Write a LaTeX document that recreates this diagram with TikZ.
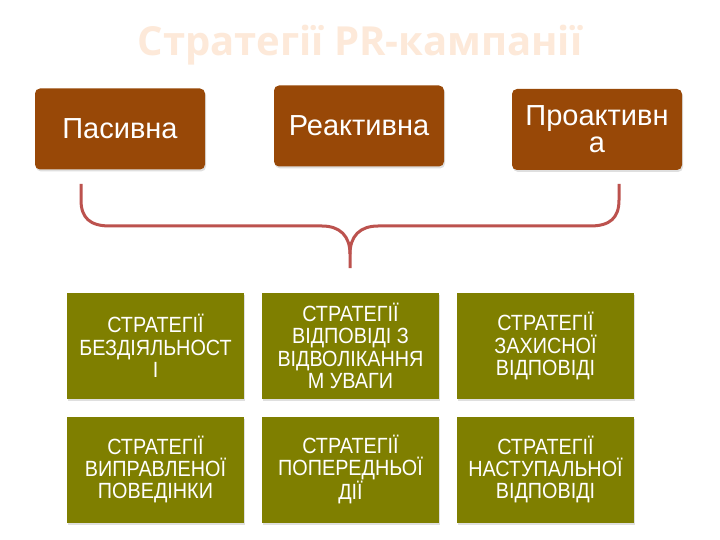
\documentclass[tikz,border=0pt]{standalone}
\usepackage{fontspec}
\setmainfont{Liberation Sans}
\newfontfamily\titlefont{Open Sans}
\newfontfamily\boxfont{Liberation Sans}[FakeStretch=0.9]
\usetikzlibrary{shadows}
\definecolor{topbox}{RGB}{152,72,7}
\definecolor{olivebox}{RGB}{127,127,0}
\definecolor{bracecol}{RGB}{188,82,78}
\definecolor{titlecol}{RGB}{253,233,217}
\tikzset{
  topnode/.style={fill=topbox, rounded corners=5pt, minimum width=170pt, minimum height=81pt,
    text=white, align=center, font=\fontsize{29}{27}\selectfont, inner sep=0pt,
    drop shadow={opacity=0.25, shadow xshift=1pt, shadow yshift=-2pt}},
  botnode/.style={fill=olivebox, minimum width=177pt, minimum height=106pt,
    text=white, align=center, font=\boxfont\fontsize{22}{22.3}\selectfont, inner sep=0pt,
    drop shadow={opacity=0.25, shadow xshift=1pt, shadow yshift=-2pt}},
  bracestyle/.style={draw=bracecol, line width=3pt, line join=round}
}
\begin{document}
\begin{tikzpicture}[x=1pt,y=-1pt]
\useasboundingbox[fill=white] (0,0) rectangle (720,540);
\node[text=titlecol, font=\titlefont\bfseries\fontsize{40}{44}\selectfont] (title) at (360,45) {Стратегії PR-кампанії};
\node[topnode] (pas) at (120,129) {Пасивна};
\node[topnode] (rea) at (359,126) {Реактивна};
\node[topnode] (pro) at (597,129.5) {Проактивн\\а};
\coordinate (bl) at (81,184);
\coordinate (br) at (619,184);
\coordinate (tip) at (350,268);
\draw[bracestyle] (bl) -- (81,200) .. controls (81,218) and (90,226) .. (110,226) -- (322,226)
  .. controls (340,226) and (350,236) .. (350,254) -- (tip);
\draw[bracestyle] (br) -- (619,200) .. controls (619,218) and (610,226) .. (590,226) -- (378,226)
  .. controls (360,226) and (350,236) .. (350,254);
\node[botnode] (b1) at (155.5,346) {СТРАТЕГІЇ\\БЕЗДІЯЛЬНОСТ\\І};
\node[botnode] (b2) at (350.5,346) {СТРАТЕГІЇ\\ВІДПОВІДІ З\\ВІДВОЛІКАННЯ\\М УВАГИ};
\node[botnode] (b3) at (545.5,346) {СТРАТЕГІЇ\\ЗАХИСНОЇ\\ВІДПОВІДІ};
\node[botnode] (b4) at (155.5,469.5) {СТРАТЕГІЇ\\ВИПРАВЛЕНОЇ\\ПОВЕДІНКИ};
\node[botnode] (b5) at (350.5,469.5) {СТРАТЕГІЇ\\ПОПЕРЕДНЬОЇ\\ДІЇ};
\node[botnode] (b6) at (545.5,469.5) {СТРАТЕГІЇ\\НАСТУПАЛЬНОЇ\\ВІДПОВІДІ};
\end{tikzpicture}
\end{document}
